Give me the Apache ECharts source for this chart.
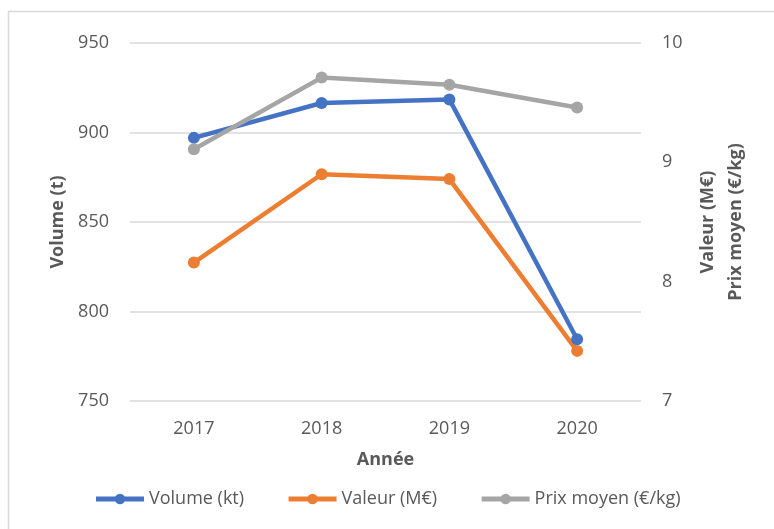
<!DOCTYPE html>
<html>
<head>
<meta charset="utf-8">
<script src="https://cdn.jsdelivr.net/npm/echarts@6/dist/echarts.min.js"></script>
<style>
html,body{margin:0;padding:0;background:#fff;}
#chart{width:774px;height:529px;}
</style>
</head>
<body>
<div id="chart"></div>
<script>
const categories = ['2017', '2018', '2019', '2020'];
const volume = [897, 916.5, 918.5, 784.5];
const valeur = [8.16, 8.90, 8.86, 7.42];
const prixMoyen = [9.11, 9.71, 9.65, 9.46];
const seriesNames = ['Volume (kt)', 'Valeur (M€)', 'Prix moyen (€/kg)'];
const leftAxisName = 'Volume (t)';
const rightAxisName = 'Valeur (M€)\nPrix moyen (€/kg)';
const xAxisName = 'Année';

const FONT = 'Open Sans';
const TXT = '#595959';
const chart = echarts.init(document.getElementById('chart'), null, {renderer: 'canvas'});
chart.setOption({
  animation: false,
  backgroundColor: '#fff',
  textStyle: {fontFamily: FONT},
  graphic: [{
    type: 'rect', silent: true, z: -1,
    shape: {x: 8.5, y: 11.5, width: 800, height: 600},
    style: {fill: 'none', stroke: '#D9D9D9', lineWidth: 1.5}
  }],
  grid: {left: 130, right: 133, top: 43, bottom: 128},
  legend: {
    bottom: 16, left: 'center',
    itemWidth: 48, itemHeight: 13, itemGap: 42,
    lineStyle: {width: 5},
    textStyle: {color: TXT, fontSize: 18, fontFamily: FONT},
    data: seriesNames
  },
  xAxis: {
    type: 'category', data: categories, boundaryGap: true,
    axisLine: {show: false}, axisTick: {show: false},
    axisLabel: {color: TXT, fontSize: 18, margin: 19, fontFamily: FONT},
    name: xAxisName, nameLocation: 'middle', nameGap: 50,
    nameTextStyle: {color: TXT, fontSize: 18, fontWeight: 'bold', fontFamily: FONT}
  },
  yAxis: [{
    type: 'value', min: 750, max: 950, interval: 50,
    axisLine: {show: false}, axisTick: {show: false},
    axisLabel: {color: TXT, fontSize: 18, margin: 21, fontFamily: FONT},
    splitLine: {lineStyle: {color: '#D9D9D9', width: 1.5}},
    name: leftAxisName, nameLocation: 'middle', nameGap: 63, nameRotate: 90,
    nameTextStyle: {color: TXT, fontSize: 18, fontWeight: 'bold', fontFamily: FONT}
  }, {
    type: 'value', min: 7, max: 10, interval: 1, position: 'right',
    axisLine: {show: false}, axisTick: {show: false},
    axisLabel: {color: TXT, fontSize: 18, margin: 21, fontFamily: FONT},
    splitLine: {show: false},
    name: rightAxisName, nameLocation: 'middle', nameGap: 53, nameRotate: 90,
    nameTextStyle: {color: TXT, fontSize: 18, fontWeight: 'bold', fontFamily: FONT, lineHeight: 28}
  }],
  series: [{
    name: seriesNames[0], type: 'line', yAxisIndex: 0, data: volume,
    symbol: 'circle', symbolSize: 12,
    lineStyle: {color: '#4472C4', width: 4.5}, itemStyle: {color: '#4472C4'}
  }, {
    name: seriesNames[1], type: 'line', yAxisIndex: 1, data: valeur,
    symbol: 'circle', symbolSize: 12,
    lineStyle: {color: '#ED7D31', width: 4.5}, itemStyle: {color: '#ED7D31'}
  }, {
    name: seriesNames[2], type: 'line', yAxisIndex: 1, data: prixMoyen,
    symbol: 'circle', symbolSize: 12,
    lineStyle: {color: '#A5A5A5', width: 4.5}, itemStyle: {color: '#A5A5A5'}
  }]
});
</script>
</body>
</html>
